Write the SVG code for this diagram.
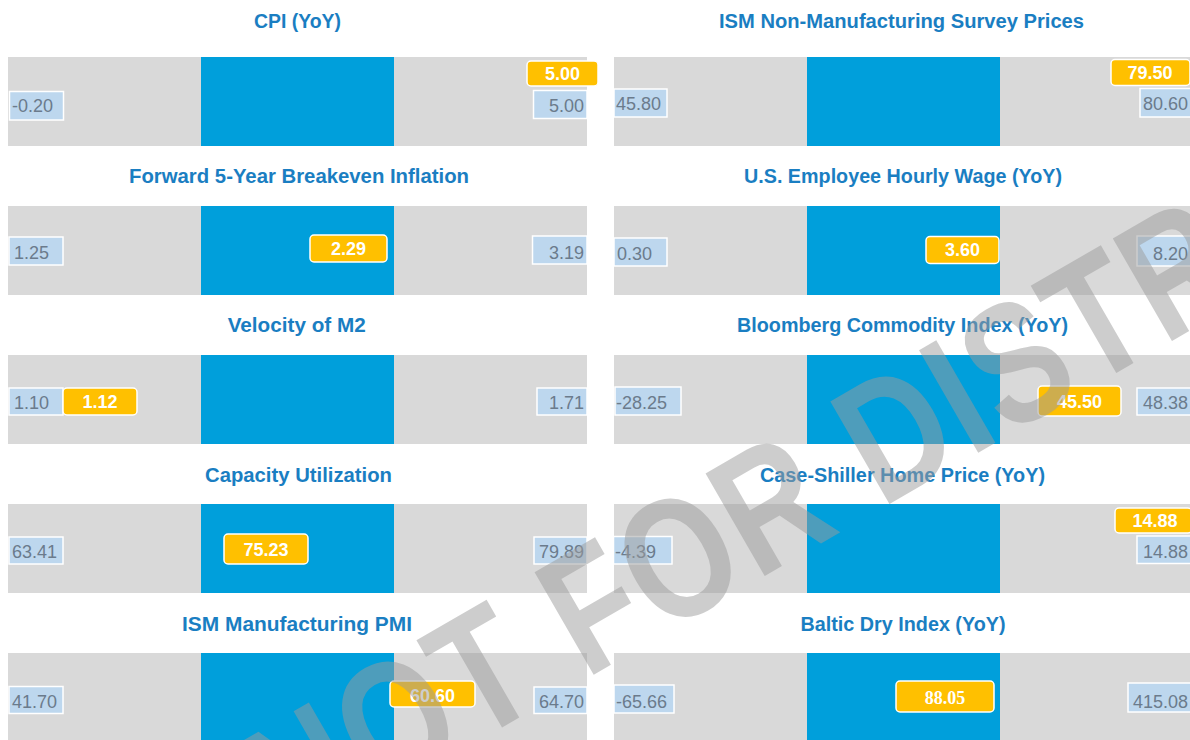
<svg xmlns="http://www.w3.org/2000/svg" width="1190" height="740" viewBox="0 0 1190 740">
<style>
.bg{fill:#ffffff}
.bar{fill:#d9d9d9}
.band{fill:#009fdb}
.title{font-family:"Liberation Sans",Arial,sans-serif;font-weight:bold;font-size:20px;fill:#1a7ec2;text-anchor:middle}
.rng{fill:#bdd7ee;stroke:#ffffff;stroke-width:1.5}
.rngt{font-family:"Liberation Sans",Arial,sans-serif;font-size:18px;fill:#6b7b8c}
.end{text-anchor:end}
.mk{fill:#ffc000;stroke:#ffffff;stroke-width:1.5}
.mkt{font-family:"Liberation Sans",Arial,sans-serif;font-weight:bold;font-size:18px;fill:#ffffff;text-anchor:middle}
.serif{font-family:"Liberation Serif","Times New Roman",serif}
.wm{font-family:"Liberation Sans",Arial,sans-serif;font-weight:bold;font-size:172px;fill:#9c9c9c;opacity:0.5;letter-spacing:4px}
</style>
<rect class="bg" x="0" y="0" width="1190" height="740"/>

<g id="cpi">
<text class="title" x="297.5" y="28" textLength="87" lengthAdjust="spacingAndGlyphs">CPI (YoY)</text>
<rect class="bar" x="8" y="57" width="579" height="89"/>
<rect class="band" x="201" y="57" width="193" height="89"/>
<rect class="rng" x="9.5" y="91.5" width="54" height="28.5"/>
<text class="rngt" x="12" y="112">-0.20</text>
<rect class="rng" x="533.5" y="90.5" width="53.5" height="28"/>
<text class="rngt end" x="584" y="112">5.00</text>
<rect class="mk" x="527" y="61" width="71" height="25" rx="4"/>
<text class="mkt" x="562.5" y="80">5.00</text>
</g>

<g id="breakeven">
<text class="title" x="299" y="183" textLength="340" lengthAdjust="spacingAndGlyphs">Forward 5-Year Breakeven Inflation</text>
<rect class="bar" x="8" y="206" width="579" height="89"/>
<rect class="band" x="201" y="206" width="193" height="89"/>
<rect class="rng" x="9" y="237" width="54" height="28"/>
<text class="rngt" x="14" y="259">1.25</text>
<rect class="rng" x="532.5" y="236" width="54.5" height="28"/>
<text class="rngt end" x="584" y="259">3.19</text>
<rect class="mk" x="310" y="235" width="77" height="27" rx="4"/>
<text class="mkt" x="348.5" y="254.5">2.29</text>
</g>

<g id="velocity">
<text class="title" x="296.7" y="332" textLength="138" lengthAdjust="spacingAndGlyphs">Velocity of M2</text>
<rect class="bar" x="8" y="355" width="579" height="89"/>
<rect class="band" x="201" y="355" width="193" height="89"/>
<rect class="rng" x="9" y="388" width="54" height="27"/>
<text class="rngt" x="14" y="409">1.10</text>
<rect class="rng" x="537" y="388" width="50" height="27"/>
<text class="rngt end" x="584" y="409">1.71</text>
<rect class="mk" x="63" y="388" width="74" height="27" rx="4"/>
<text class="mkt" x="100" y="407.5">1.12</text>
</g>

<g id="capacity">
<text class="title" x="298.5" y="481.5" textLength="187" lengthAdjust="spacingAndGlyphs">Capacity Utilization</text>
<rect class="bar" x="8" y="504" width="579" height="89"/>
<rect class="band" x="201" y="504" width="193" height="89"/>
<rect class="rng" x="9" y="537" width="54" height="27"/>
<text class="rngt" x="12" y="558">63.41</text>
<rect class="rng" x="534" y="537" width="53" height="27"/>
<text class="rngt end" x="584" y="558">79.89</text>
<rect class="mk" x="224" y="534" width="84" height="30" rx="4"/>
<text class="mkt" x="266" y="555.5">75.23</text>
</g>

<g id="ism-pmi">
<text class="title" x="297" y="630.5" textLength="230" lengthAdjust="spacingAndGlyphs">ISM Manufacturing PMI</text>
<rect class="bar" x="8" y="653" width="579" height="89"/>
<rect class="band" x="201" y="653" width="193" height="89"/>
<rect class="rng" x="9" y="686.5" width="54" height="27"/>
<text class="rngt" x="12" y="707.5">41.70</text>
<rect class="rng" x="534" y="687" width="53" height="26.5"/>
<text class="rngt end" x="584" y="707.5">64.70</text>
<rect class="mk" x="390" y="681" width="85" height="26" rx="4"/>
<text class="mkt" x="432.5" y="701.5">60.60</text>
</g>

<g id="ism-nonmfg">
<text class="title" x="901.5" y="28" textLength="365" lengthAdjust="spacingAndGlyphs">ISM Non-Manufacturing Survey Prices</text>
<rect class="bar" x="614" y="57" width="579" height="89"/>
<rect class="band" x="807" y="57" width="193" height="89"/>
<rect class="rng" x="614" y="89" width="53" height="28"/>
<text class="rngt" x="616" y="110">45.80</text>
<rect class="rng" x="1140" y="88.5" width="53" height="28.5"/>
<text class="rngt end" x="1188" y="110">80.60</text>
<rect class="mk" x="1111" y="59.5" width="79" height="26" rx="4"/>
<text class="mkt" x="1150" y="78.5">79.50</text>
</g>

<g id="wage">
<text class="title" x="903" y="183" textLength="318" lengthAdjust="spacingAndGlyphs">U.S. Employee Hourly Wage (YoY)</text>
<rect class="bar" x="614" y="206" width="579" height="89"/>
<rect class="band" x="807" y="206" width="193" height="89"/>
<rect class="rng" x="614" y="238" width="53" height="28"/>
<text class="rngt" x="617" y="259.5">0.30</text>
<rect class="rng" x="1137" y="236" width="56" height="30"/>
<text class="rngt end" x="1188" y="260">8.20</text>
<rect class="mk" x="926" y="236.5" width="73" height="27" rx="4"/>
<text class="mkt" x="962.5" y="256">3.60</text>
</g>

<g id="bloomberg">
<text class="title" x="902.5" y="332" textLength="331" lengthAdjust="spacingAndGlyphs">Bloomberg Commodity Index (YoY)</text>
<rect class="bar" x="614" y="355" width="579" height="89"/>
<rect class="band" x="807" y="355" width="193" height="89"/>
<rect class="rng" x="615" y="387" width="66" height="28"/>
<text class="rngt" x="616" y="409">-28.25</text>
<rect class="rng" x="1137" y="388" width="56" height="27"/>
<text class="rngt end" x="1188" y="409">48.38</text>
<rect class="mk" x="1038" y="386" width="83" height="30" rx="4"/>
<text class="mkt" x="1079.5" y="408">45.50</text>
</g>

<g id="case-shiller">
<text class="title" x="902.5" y="481.5" textLength="285" lengthAdjust="spacingAndGlyphs">Case-Shiller Home Price (YoY)</text>
<rect class="bar" x="614" y="504" width="579" height="89"/>
<rect class="band" x="807" y="504" width="193" height="89"/>
<rect class="rng" x="613.5" y="536.5" width="58.5" height="27.5"/>
<text class="rngt" x="615" y="558">-4.39</text>
<rect class="rng" x="1137" y="536" width="56" height="27.5"/>
<text class="rngt end" x="1188" y="558">14.88</text>
<rect class="mk" x="1115" y="508" width="77" height="25" rx="4"/>
<text class="mkt" x="1155" y="527">14.88</text>
</g>

<g id="baltic">
<text class="title" x="903" y="630.5" textLength="205" lengthAdjust="spacingAndGlyphs">Baltic Dry Index (YoY)</text>
<rect class="bar" x="614" y="653" width="579" height="89"/>
<rect class="band" x="807" y="653" width="193" height="89"/>
<rect class="rng" x="614" y="685" width="60" height="28"/>
<text class="rngt" x="616" y="707.5">-65.66</text>
<rect class="rng" x="1128" y="683" width="65" height="29"/>
<text class="rngt end" x="1188" y="708">415.08</text>
<rect class="mk" x="896" y="681" width="98" height="31" rx="4"/>
<text class="mkt serif" x="945" y="703.5">88.05</text>
</g>

<g id="watermark">
<text class="wm" transform="translate(290,850) rotate(-30) scale(0.8,1)" x="0" y="0">NOT FOR DISTR</text>
</g>
</svg>
